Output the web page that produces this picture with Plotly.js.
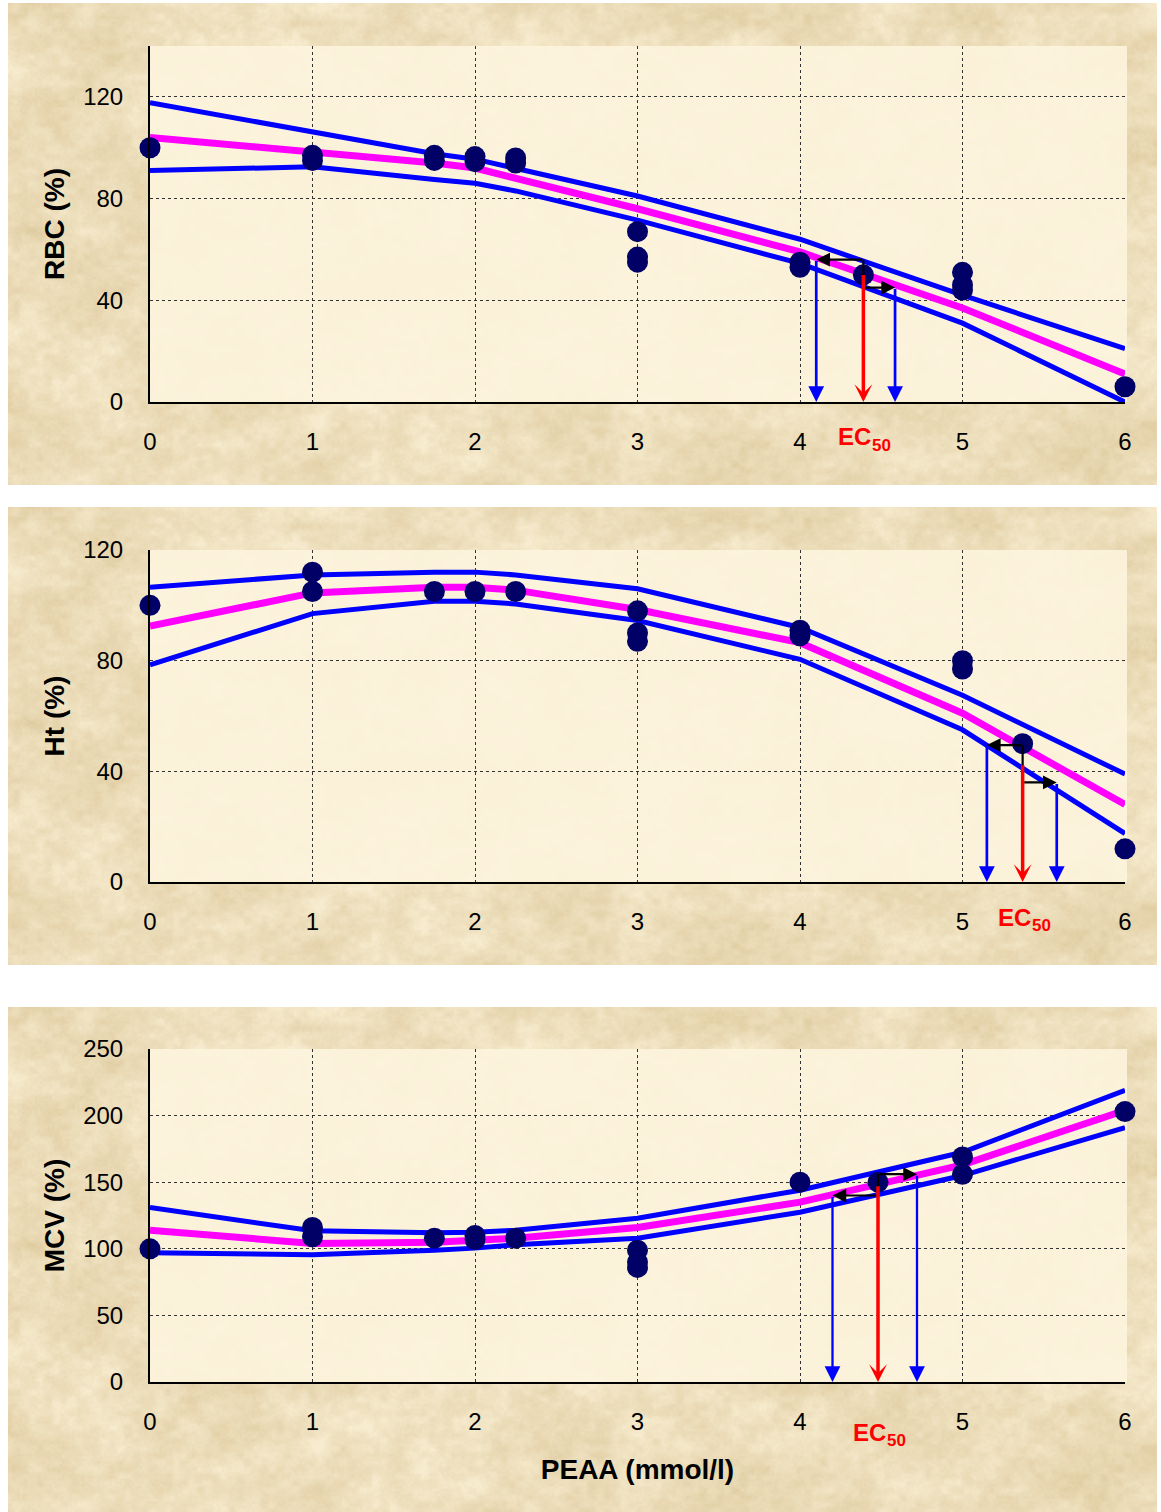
<!DOCTYPE html>
<html>
<head>
<meta charset="utf-8">
<script src="https://cdn.plot.ly/plotly-3.0.1.min.js"></script>
<style>
  html, body { margin: 0; padding: 0; background: #ffffff; }
  #chart { width: 1161px; height: 1512px; }
</style>
</head>
<body>
<div id="chart"></div>
<script>
// ---------------- data ----------------
// doses (mmol/l) at which fitted curve and confidence band are drawn
const curveDose = [0, 1, 1.75, 2, 2.25, 3, 4, 5, 6];
const xTickVals = [0, 1, 2, 3, 4, 5, 6];

// RBC (%)
const rbcDose  = [0, 1, 1, 1.75, 1.75, 2, 2, 2.25, 2.25, 3, 3, 3, 4, 4, 5, 5, 5, 6];
const rbcObs   = [100, 97, 95, 97, 95, 96.5, 94.5, 96, 94, 67, 57, 55, 55, 53, 51, 46, 44, 6];
const rbcFit   = [104, 98.5, 94, 92, 88, 76, 59, 37, 11];
const rbcUpper = [117.7, 106, 97.6, 95.5, 92, 81, 64, 42, 21];
const rbcLower = [91, 92.5, 87.5, 86, 83, 71.5, 54.5, 31, 0];
const rbcEC50  = [4.39, 4.10, 4.585];   // EC50, lower limit, upper limit
const rbcEC50Y = [50, 56, 45];          // response at EC50, level of arrow to lower, level of arrow to upper

// Ht (%)
const htDose  = [0, 1, 1, 1.75, 2, 2.25, 3, 3, 3, 4, 4, 5, 5, 6];
const htObs   = [100, 112, 105, 105, 105, 105, 98, 90, 87, 91, 89, 80, 77, 12];
const htFit   = [92.5, 104.5, 106.5, 106.5, 105.5, 98.5, 86.5, 61, 28];
const htUpper = [106.5, 111, 112, 112, 111, 106, 92, 67.5, 39];
const htLower = [78.5, 97, 101.5, 101.5, 100.5, 94.5, 80.5, 55, 17.5];
const htEC50  = [5.37, 5.15, 5.58];
const htEC50Y = [50, 49.5, 36];

// MCV (%)
const mcvDose  = [0, 1, 1, 1.75, 2, 2, 2.25, 3, 3, 3, 4, 5, 5, 6];
const mcvObs   = [100, 116, 109, 108, 110, 107, 108, 99, 90, 86, 150, 169, 156, 203];
const mcvFit   = [114, 104, 105, 106, 108, 116, 135, 163, 204];
const mcvUpper = [131, 113.5, 112, 112.5, 114, 123, 144, 172.5, 219];
const mcvLower = [97, 95.5, 99, 100.5, 103, 108, 127.5, 155, 191];
const mcvEC50  = [4.48, 4.20, 4.72];
const mcvEC50Y = [150, 140, 156];

const yTitles = ['RBC (%)', 'Ht (%)', 'MCV (%)'];
const xTitle = 'PEAA (mmol/l)';
const ecLabelMain = 'EC';
const ecLabelSub = '50';

// ---------------- parchment texture (decoration only) ----------------
function hash(i, j) {
  const s = Math.sin(i * 127.1 + j * 311.7) * 43758.5453;
  return s - Math.floor(s);
}
function vnoise(x, y) {
  const i = Math.floor(x), j = Math.floor(y);
  const fx = x - i, fy = y - j;
  const u = fx * fx * (3 - 2 * fx), v = fy * fy * (3 - 2 * fy);
  const a = hash(i, j), b = hash(i + 1, j), c = hash(i, j + 1), d = hash(i + 1, j + 1);
  return (a * (1 - u) + b * u) * (1 - v) + (c * (1 - u) + d * u) * v;
}
function makeTexture(w, h) {
  const cv = document.createElement('canvas');
  cv.width = w; cv.height = h;
  const ctx = cv.getContext('2d');
  const img = ctx.createImageData(w, h);
  const dark = [220, 199, 154], light = [247, 236, 207];
  for (let y = 0; y < h; y++) {
    for (let x = 0; x < w; x++) {
      const n = 0.32 * vnoise(x / 80, y / 60) + 0.3 * vnoise(x / 26 + 31, y / 20 + 7)
              + 0.24 * vnoise(x / 8 + 5, y / 7 + 3) + 0.14 * vnoise(x / 2.5, y / 2.5);
      const t = Math.min(1, Math.max(0, 0.6 + (n - 0.5) * 1.25));
      const k = (y * w + x) * 4;
      img.data[k] = dark[0] + (light[0] - dark[0]) * t;
      img.data[k + 1] = dark[1] + (light[1] - dark[1]) * t;
      img.data[k + 2] = dark[2] + (light[2] - dark[2]) * t;
      img.data[k + 3] = 255;
    }
  }
  ctx.putImageData(img, 0, 0);
  return cv.toDataURL('image/png');
}

// ---------------- layout helpers ----------------
const W = 1161, H = 1512;
const fx = p => p / W;
const fy = p => 1 - p / H;
const FONT = 'Liberation Sans, Arial, Helvetica, sans-serif';
const CREAM = 'rgba(253,244,222,0.9)';
const NAVY = '#000066';
const BLUE = '#0000ff';
const MAGENTA = '#ff00ff';
const RED = '#ff0000';

const plotX = [150, 1125];
const panels = [
  { box: [8, 3, 1157, 485],   plotY: [46, 402],   range: [0, 140], dtick: 40, blueW: 2.7,
    dose: rbcDose, obs: rbcObs, fit: rbcFit, up: rbcUpper, lo: rbcLower, ec: rbcEC50, ecY: rbcEC50Y, labelPy: 437 },
  { box: [8, 507, 1157, 965], plotY: [550, 882],  range: [0, 120], dtick: 40, blueW: 2.7,
    dose: htDose, obs: htObs, fit: htFit, up: htUpper, lo: htLower, ec: htEC50, ecY: htEC50Y, labelPy: 917 },
  { box: [8, 1007, 1157, 1512], plotY: [1049, 1382], range: [0, 250], dtick: 50, blueW: 2.3,
    dose: mcvDose, obs: mcvObs, fit: mcvFit, up: mcvUpper, lo: mcvLower, ec: mcvEC50, ecY: mcvEC50Y, labelPy: 1432 }
];

const texture = makeTexture(1150, 505);
const traces = [];
const shapes = [];
const images = [];
const annotations = [];
const layout = {
  width: W, height: H, autosize: false,
  margin: { l: 0, r: 0, t: 0, b: 0 },
  paper_bgcolor: '#ffffff',
  plot_bgcolor: '#fdf3dc',
  showlegend: false,
  font: { family: FONT, color: '#000000' }
};

panels.forEach((p, i) => {
  const n = i === 0 ? '' : String(i + 1);
  const xr = 'x' + n, yr = 'y' + n;

  // panel background (parchment) and plot area
  images.push({ source: texture, xref: 'paper', yref: 'paper', layer: 'below',
    x: fx(p.box[0]), y: fy(p.box[1]), sizex: fx(p.box[2] - p.box[0]), sizey: (p.box[3] - p.box[1]) / H,
    xanchor: 'left', yanchor: 'top', sizing: 'stretch' });
  shapes.push({ type: 'rect', xref: 'paper', yref: 'paper', layer: 'below',
    x0: fx(plotX[0]), x1: fx(plotX[1] + 2), y0: fy(p.plotY[1]), y1: fy(p.plotY[0]),
    fillcolor: CREAM, line: { width: 0 } });

  layout['xaxis' + n] = {
    domain: [fx(plotX[0]), fx(plotX[1])], range: [0, 6], anchor: yr,
    tickvals: xTickVals, ticks: '', ticklabelstandoff: 17,
    showline: true, linecolor: '#000000', linewidth: 2,
    showgrid: true, gridcolor: '#333333', gridwidth: 1, griddash: '3px,3px',
    zeroline: false, fixedrange: true,
    tickfont: { family: FONT, size: 24, color: '#000000' },
    title: i === 2 ? { text: xTitle, standoff: 26,
      font: { family: FONT, size: 28, weight: 'bold', color: '#000000' } } : undefined
  };
  layout['yaxis' + n] = {
    domain: [fy(p.plotY[1]), fy(p.plotY[0])], range: p.range, anchor: xr,
    tick0: 0, dtick: p.dtick, ticks: '', ticklabelstandoff: 20,
    showline: true, linecolor: '#000000', linewidth: 2,
    showgrid: true, gridcolor: '#333333', gridwidth: 1, griddash: '3px,3px',
    zeroline: false, fixedrange: true,
    tickfont: { family: FONT, size: 24, color: '#000000' },
    title: { text: yTitles[i], standoff: 10,
      font: { family: FONT, size: 28, weight: 'bold', color: '#000000' } }
  };

  // fitted curve and confidence band
  traces.push({ type: 'scatter', mode: 'lines', x: curveDose, y: p.fit, xaxis: xr, yaxis: yr,
    line: { color: MAGENTA, width: 7 }, hoverinfo: 'skip', cliponaxis: false });
  traces.push({ type: 'scatter', mode: 'lines', x: curveDose, y: p.up, xaxis: xr, yaxis: yr,
    line: { color: BLUE, width: 5 }, hoverinfo: 'skip', cliponaxis: false });
  traces.push({ type: 'scatter', mode: 'lines', x: curveDose, y: p.lo, xaxis: xr, yaxis: yr,
    line: { color: BLUE, width: 5 }, hoverinfo: 'skip', cliponaxis: false });
  // observations
  traces.push({ type: 'scatter', mode: 'markers', x: p.dose, y: p.obs, xaxis: xr, yaxis: yr,
    marker: { color: NAVY, size: 21, line: { width: 0 } }, cliponaxis: false });
  // EC50 point
  traces.push({ type: 'scatter', mode: 'markers', x: [p.ec[0]], y: [p.ecY[0]], xaxis: xr, yaxis: yr,
    marker: { color: NAVY, size: 21, line: { width: 0 } }, cliponaxis: false });

  // EC50 and confidence-limit arrows
  const [e, eLo, eHi] = p.ec;
  const [, yLoArrow, yHiArrow] = p.ecY;
  const redTop = (yLoArrow + yHiArrow) / 2;
  traces.push({ type: 'scatter', mode: 'lines', x: [e, e], y: [yLoArrow, yHiArrow],
    xaxis: xr, yaxis: yr, line: { color: '#000000', width: 2.2 }, hoverinfo: 'skip' });
  const base = { xref: xr, yref: yr, axref: xr, ayref: yr, text: '', showarrow: true, standoff: 0 };
  annotations.push(Object.assign({}, base, { x: eLo, y: 0, ax: eLo, ay: yLoArrow,
    arrowcolor: BLUE, arrowwidth: p.blueW, arrowhead: 2, arrowsize: 3.0 / p.blueW * 1.05 }));
  annotations.push(Object.assign({}, base, { x: eHi, y: 0, ax: eHi, ay: yHiArrow,
    arrowcolor: BLUE, arrowwidth: p.blueW, arrowhead: 2, arrowsize: 3.0 / p.blueW * 1.05 }));
  annotations.push(Object.assign({}, base, { x: eLo, y: yLoArrow, ax: e, ay: yLoArrow,
    arrowcolor: '#000000', arrowwidth: 2.2, arrowhead: 2, arrowsize: 1.25 }));
  annotations.push(Object.assign({}, base, { x: eHi, y: yHiArrow, ax: e, ay: yHiArrow,
    arrowcolor: '#000000', arrowwidth: 2.2, arrowhead: 2, arrowsize: 1.25 }));
  annotations.push(Object.assign({}, base, { x: e, y: 0, ax: e, ay: redTop,
    arrowcolor: RED, arrowwidth: 3.5, arrowhead: 3, arrowsize: 0.85 }));

  // EC50 label: "EC" with a lowered, smaller "50"
  annotations.push({ xref: xr, yref: 'paper', x: e, y: fy(p.labelPy), xanchor: 'right', yanchor: 'middle',
    xshift: 10, text: ecLabelMain, showarrow: false,
    font: { family: FONT, size: 24, weight: 'bold', color: RED } });
  annotations.push({ xref: xr, yref: 'paper', x: e, y: fy(p.labelPy + 8), xanchor: 'left', yanchor: 'middle',
    xshift: 7, text: ecLabelSub, showarrow: false,
    font: { family: FONT, size: 17, weight: 'bold', color: RED } });
});

layout.shapes = shapes;
layout.images = images;
layout.annotations = annotations;

Plotly.newPlot('chart', traces, layout, { displayModeBar: false, staticPlot: true });
</script>
</body>
</html>
